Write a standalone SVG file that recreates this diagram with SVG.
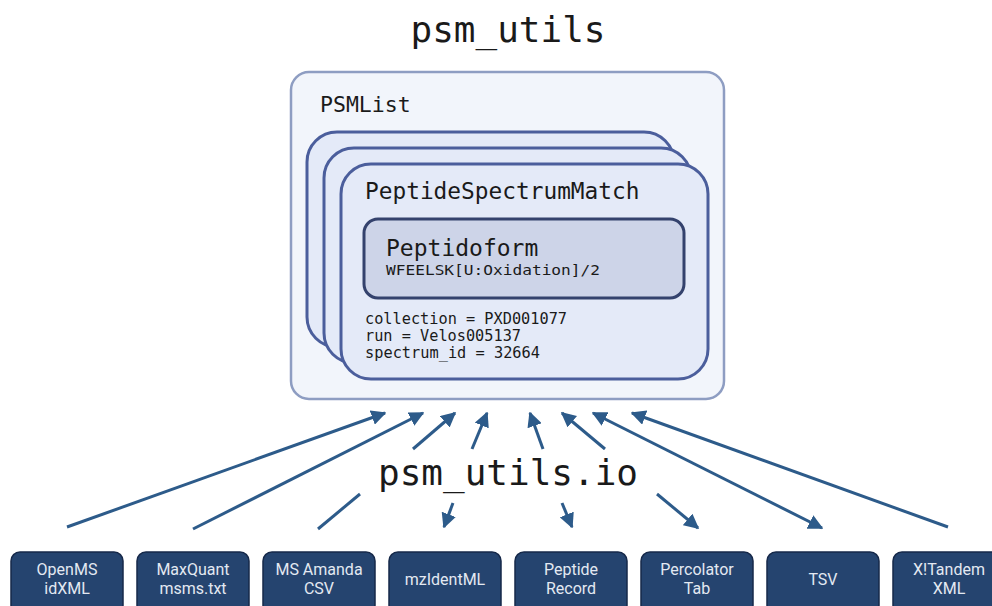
<svg xmlns="http://www.w3.org/2000/svg" width="992" height="606" viewBox="0 0 992 606">
<defs>
<marker id="ah" viewBox="0 0 10 10" refX="9" refY="5" markerWidth="5" markerHeight="5" orient="auto-start-reverse" markerUnits="strokeWidth">
<path d="M0,0 L10,5 L0,10 z" fill="#2d5b8a"/>
</marker>
<style>
.mono{font-family:"DejaVu Sans Mono","Liberation Mono",monospace;fill:#1a1a1a}
.card{fill:#e4eaf8;stroke:#4b5e9c;stroke-width:3}
.conn{fill:none;stroke:#2d5b8a;stroke-width:3}
.fmt rect{fill:#25446f;stroke:#16294a;stroke-width:1.5}
.fmt text{font-family:Roboto,"Liberation Sans",sans-serif;font-size:16px;fill:#e3e9f2;text-anchor:middle}
</style>
</defs>
<rect width="992" height="606" fill="#ffffff"/>
<text class="mono" x="508" y="42" font-size="36" text-anchor="middle">psm_utils</text>

<g id="psmlist">
<rect x="291" y="72" width="433" height="327" rx="18" fill="#f2f5fb" stroke="#8e9dc2" stroke-width="2.5"/>
<text class="mono" x="320" y="112" font-size="21.5">PSMList</text>
</g>
<g id="psm-card-1"><rect class="card" x="307" y="132" width="367" height="215" rx="30"/></g>
<g id="psm-card-2"><rect class="card" x="324" y="148" width="367" height="215" rx="30"/></g>
<g id="psm">
<rect class="card" x="341" y="164" width="367" height="215" rx="30"/>
<text class="mono" x="365" y="199" font-size="22.8">PeptideSpectrumMatch</text>
<text class="mono" x="365" y="324" font-size="15" textLength="202" lengthAdjust="spacingAndGlyphs">collection = PXD001077</text>
<text class="mono" x="365" y="341" font-size="15" textLength="156" lengthAdjust="spacingAndGlyphs">run = Velos005137</text>
<text class="mono" x="365" y="358" font-size="15" textLength="175" lengthAdjust="spacingAndGlyphs">spectrum_id = 32664</text>
</g>
<g id="peptidoform">
<rect x="364" y="219" width="320" height="79" rx="14" fill="#cdd4e8" stroke="#34426d" stroke-width="3"/>
<text class="mono" x="386" y="256" font-size="23">Peptidoform</text>
<text class="mono" x="386" y="275" font-size="14" textLength="214" lengthAdjust="spacingAndGlyphs">WFEELSK[U:Oxidation]/2</text>
</g>

<text class="mono" x="508" y="485" font-size="36" text-anchor="middle">psm_utils.io</text>

<g id="connectors">
<path class="conn" d="M67,527 L385,413" marker-end="url(#ah)"/>
<path class="conn" d="M193,529 L423,413" marker-end="url(#ah)"/>
<path class="conn" d="M318,529 L360,494"/>
<path class="conn" d="M413,449 L455,413" marker-end="url(#ah)"/>
<path class="conn" d="M472,449 L487,413" marker-end="url(#ah)"/>
<path class="conn" d="M453,503 L444,527" marker-end="url(#ah)"/>
<path class="conn" d="M543,449 L530,413" marker-end="url(#ah)"/>
<path class="conn" d="M562,503 L572,527" marker-end="url(#ah)"/>
<path class="conn" d="M605,449 L562,413" marker-end="url(#ah)"/>
<path class="conn" d="M657,494 L698,528" marker-end="url(#ah)"/>
<path class="conn" d="M593,413 L822,528" marker-start="url(#ah)" marker-end="url(#ah)"/>
<path class="conn" d="M948,527 L632,413" marker-end="url(#ah)"/>
</g>

<g id="openms" class="fmt"><rect x="11" y="552" width="112" height="62" rx="9"/><text x="67" y="575">OpenMS</text><text x="67" y="594">idXML</text></g>
<g id="maxquant" class="fmt"><rect x="137" y="552" width="112" height="62" rx="9"/><text x="193" y="575">MaxQuant</text><text x="193" y="594">msms.txt</text></g>
<g id="msamanda" class="fmt"><rect x="263" y="552" width="112" height="62" rx="9"/><text x="319" y="575">MS Amanda</text><text x="319" y="594">CSV</text></g>
<g id="mzidentml" class="fmt"><rect x="389" y="552" width="112" height="62" rx="9"/><text x="445" y="585">mzIdentML</text></g>
<g id="peprec" class="fmt"><rect x="515" y="552" width="112" height="62" rx="9"/><text x="571" y="575">Peptide</text><text x="571" y="594">Record</text></g>
<g id="percolator" class="fmt"><rect x="641" y="552" width="112" height="62" rx="9"/><text x="697" y="575">Percolator</text><text x="697" y="594">Tab</text></g>
<g id="tsv" class="fmt"><rect x="767" y="552" width="112" height="62" rx="9"/><text x="823" y="585">TSV</text></g>
<g id="xtandem" class="fmt"><rect x="893" y="552" width="112" height="62" rx="9"/><text x="949" y="575">X!Tandem</text><text x="949" y="594">XML</text></g>
</svg>
